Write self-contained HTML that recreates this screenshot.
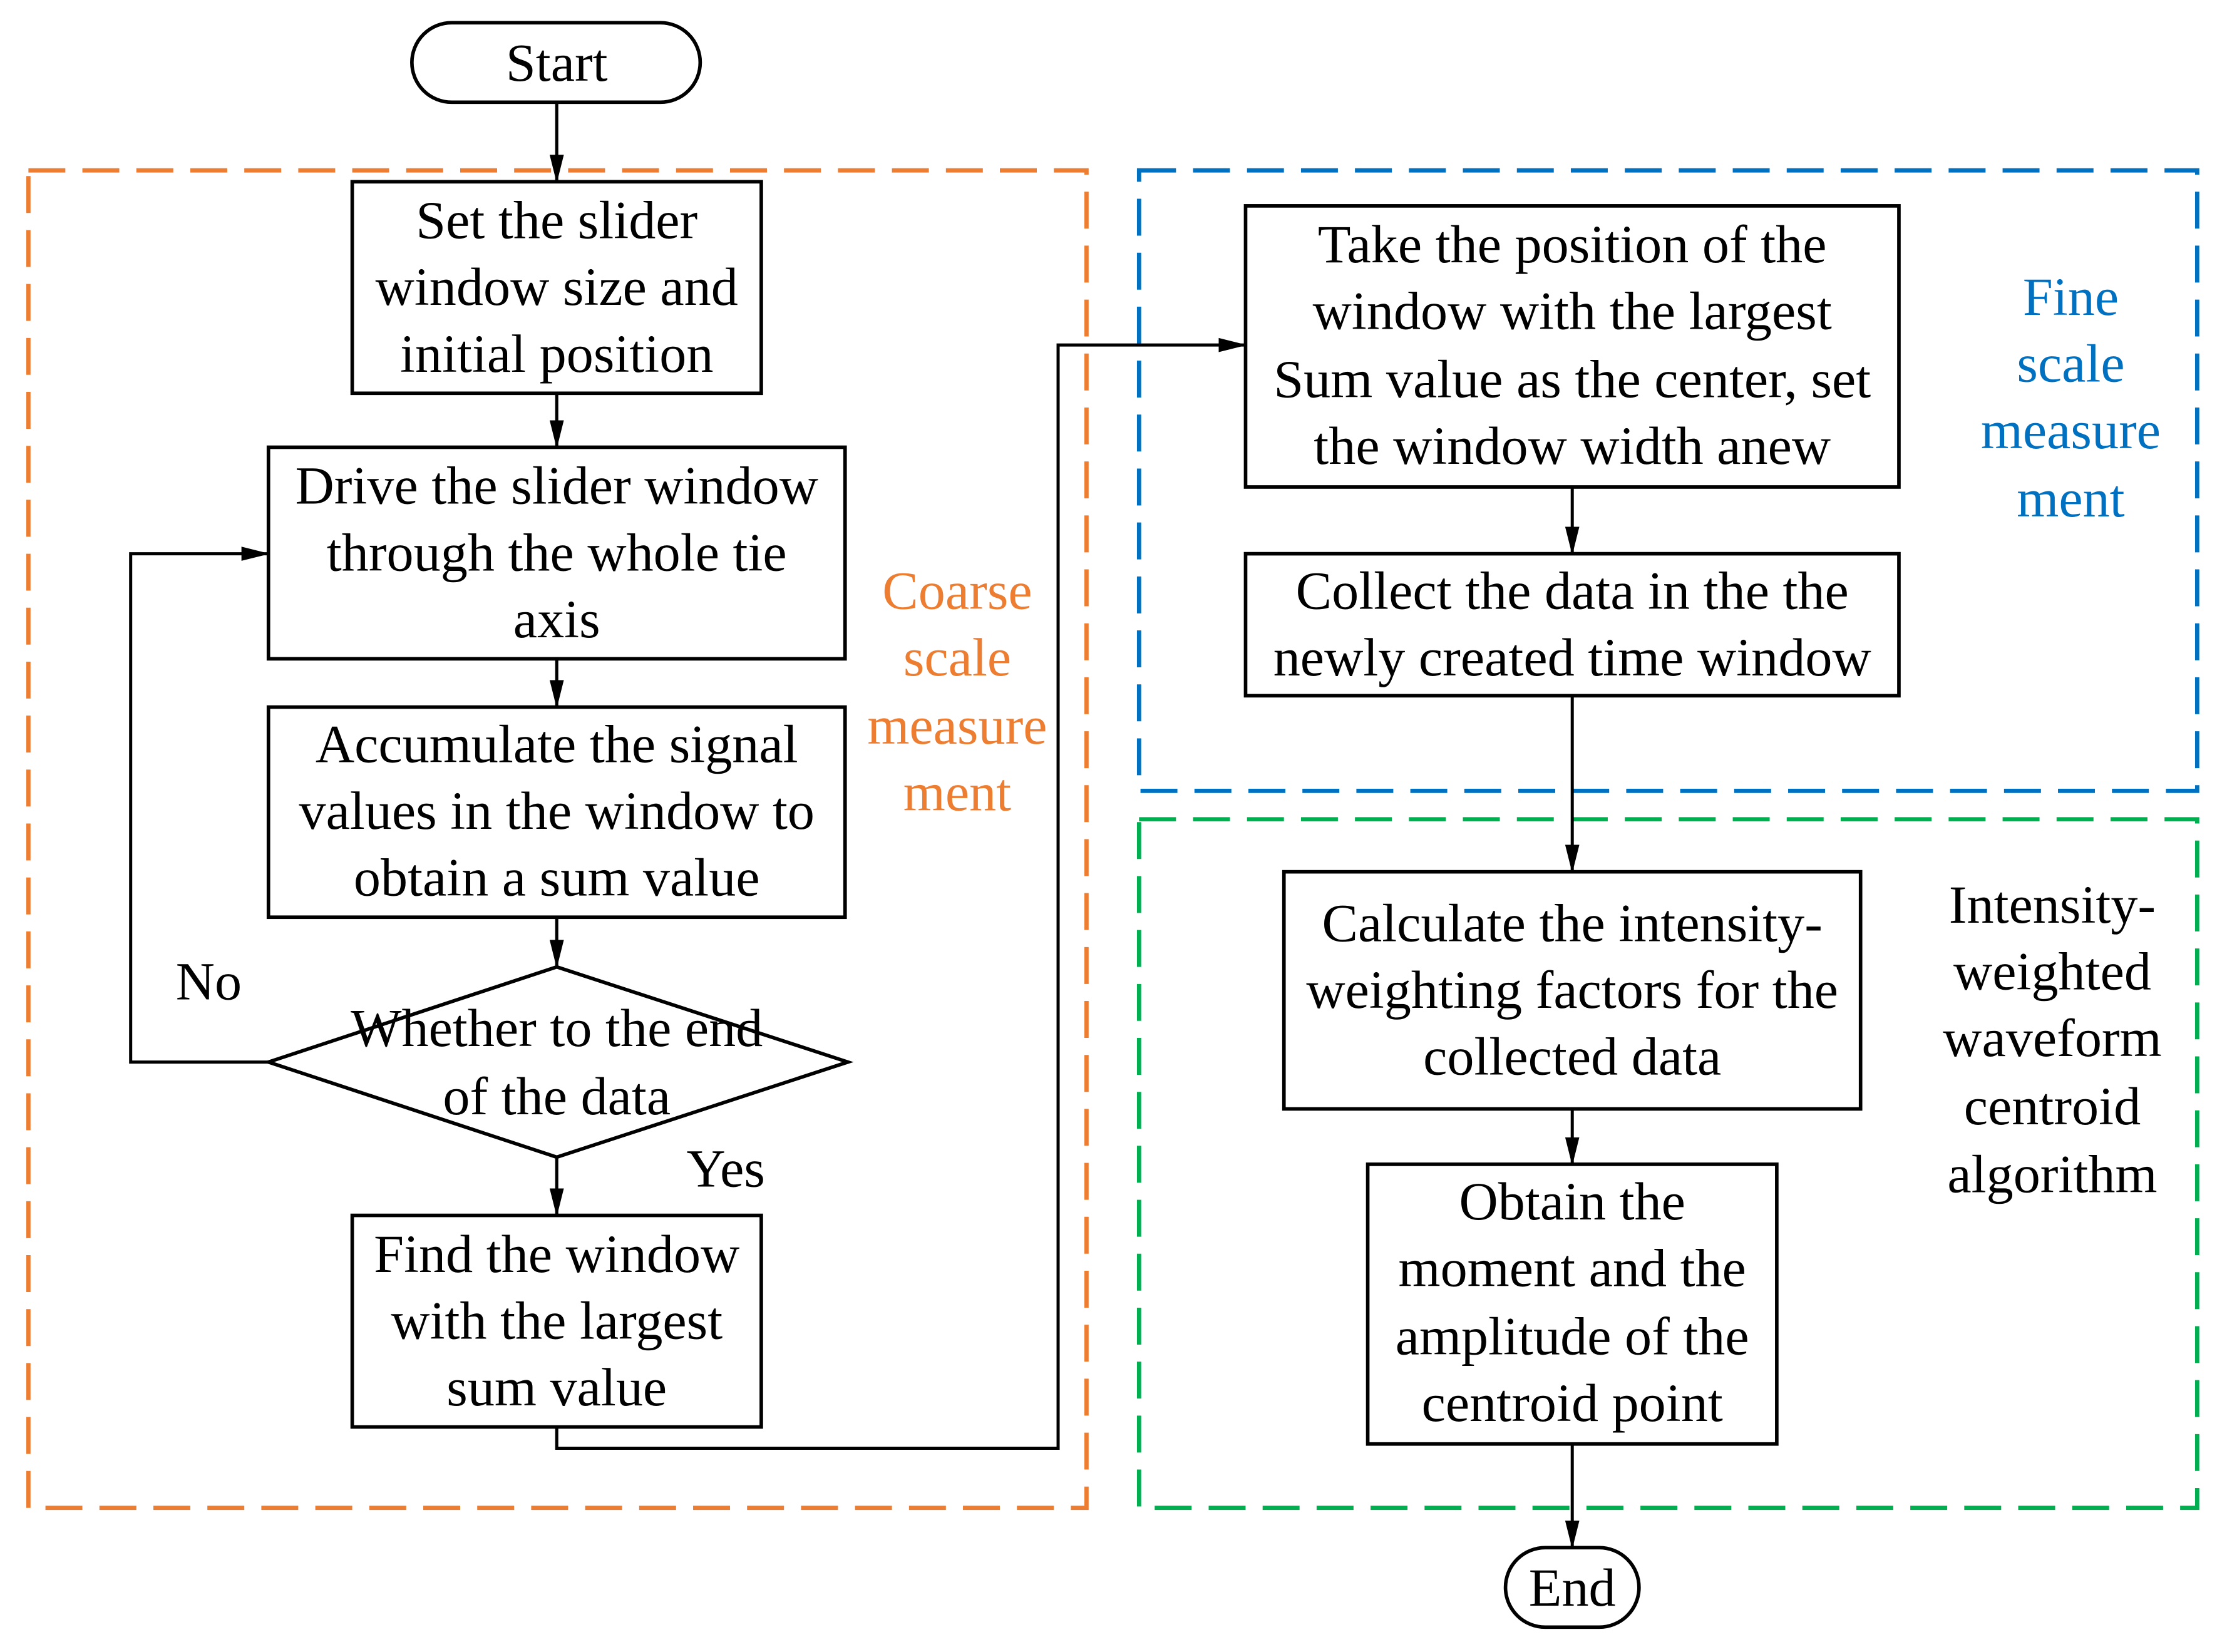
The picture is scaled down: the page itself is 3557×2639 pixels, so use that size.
<!DOCTYPE html>
<html><head><meta charset="utf-8"><style>
html,body{margin:0;padding:0;background:#fff}
svg{display:block}
text{font-family:"Liberation Serif",serif;font-size:38px;text-anchor:middle;dominant-baseline:central}
</style></head><body>
<svg width="3557" height="2639" viewBox="0 0 1568 1163.5" preserveAspectRatio="none" xmlns="http://www.w3.org/2000/svg">
<defs>
<marker id="b" markerWidth="20" markerHeight="14" refX="19" refY="7" orient="auto" markerUnits="userSpaceOnUse"><path d="M0,2 L20,7 L0,12 Z" fill="#000"/></marker></defs>
<rect width="1600" height="1200" fill="#fff"/>
<g fill="none" stroke-width="3" stroke-dasharray="26,12">
<rect x="20" y="120" width="745" height="942" stroke="#ED7D31"/>
<rect x="802" y="120" width="745" height="437" stroke="#0070C0"/>
<rect x="802" y="577" width="745" height="485" stroke="#00B050"/>
</g>
<g fill="none" stroke="#000" stroke-width="2.5">
<rect x="290" y="16" width="203" height="56" rx="28"/>
<rect x="248" y="128" width="288" height="149"/>
<rect x="189" y="315" width="406" height="149"/>
<rect x="189" y="498" width="406" height="148"/>
<polygon points="392,681 597,748 392,815 189,748"/>
<rect x="248" y="856" width="288" height="149"/>
<rect x="877" y="145" width="460" height="198"/>
<rect x="877" y="390" width="460" height="100"/>
<rect x="904" y="614" width="406" height="167"/>
<rect x="963" y="820" width="288" height="197"/>
<rect x="1060" y="1090" width="94" height="56" rx="28"/>
</g>
<g fill="none" stroke="#000" stroke-width="2.2" marker-end="url(#b)">
<path d="M392,72 V128"/><path d="M392,277 V315"/><path d="M392,464 V498"/><path d="M392,646 V681"/><path d="M392,815 V856"/>
<path d="M189,748 H92 V390 H189"/>
<path d="M392,1005 V1020 H745 V243 H877"/>
<path d="M1107,343 V390"/><path d="M1107,490 V614"/><path d="M1107,781 V820"/><path d="M1107,1017 V1090"/>
</g>
<text x="392" y="44">Start</text>
<text x="392" y="155">Set the slider</text><text x="392" y="202">window size and</text><text x="392" y="249">initial position</text>
<text x="392" y="342">Drive the slider window</text><text x="392" y="389">through the whole tie</text><text x="392" y="436">axis</text>
<text x="392" y="524">Accumulate the signal</text><text x="392" y="571">values in the window to</text><text x="392" y="618">obtain a sum value</text>
<text x="392" y="724">Whether to the end</text><text x="392" y="772">of the data</text>
<text x="147" y="691">No</text><text x="511" y="823">Yes</text>
<text x="392" y="883">Find the window</text><text x="392" y="930">with the largest</text><text x="392" y="977">sum value</text>
<text x="1107" y="172">Take the position of the</text><text x="1107" y="219">window with the largest</text><text x="1107" y="267">Sum value  as the center, set</text><text x="1107" y="314">the window width anew</text>
<text x="1107" y="416">Collect the data in the the</text><text x="1107" y="463">newly created time window</text>
<text x="1107" y="650">Calculate the intensity-</text><text x="1107" y="697">weighting factors for the</text><text x="1107" y="744">collected data</text>
<text x="1107" y="846">Obtain the</text><text x="1107" y="893">moment and the</text><text x="1107" y="941">amplitude of the</text><text x="1107" y="988">centroid point</text>
<text x="1107" y="1118">End</text>
<g fill="#ED7D31"><text x="674" y="416">Coarse</text><text x="674" y="463">scale</text><text x="674" y="511">measure</text><text x="674" y="558">ment</text></g>
<g fill="#0070C0"><text x="1458" y="209">Fine</text><text x="1458" y="256">scale</text><text x="1458" y="303">measure</text><text x="1458" y="351">ment</text></g>
<text x="1445" y="637">Intensity-</text><text x="1445" y="684">weighted</text><text x="1445" y="731">waveform</text><text x="1445" y="779">centroid</text><text x="1445" y="827">algorithm</text>
</svg>
</body></html>
